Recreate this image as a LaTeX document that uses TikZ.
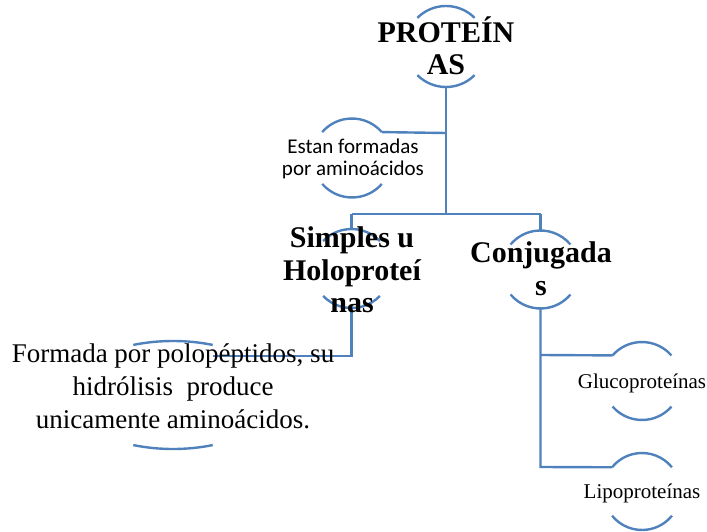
\documentclass[tikz,border=0pt]{standalone}
\usepackage{fontspec}
\setmainfont{Liberation Serif}
\newfontfamily\calib{Carlito}
\definecolor{arcblue}{HTML}{4F81BD}
\newcommand\ringarcs[5]{% name, x, y, radius, endpoint angle
  \coordinate (#1) at (#2,#3);
  \draw[arcline] (#1) ++(#5:#4) arc[start angle=#5, end angle=180-#5, radius=#4];
  \draw[arcline] (#1) ++(180+#5:#4) arc[start angle=180+#5, end angle=360-#5, radius=#4];
  \path (#1) ++(0,#4) coordinate (#1-t);
  \path (#1) ++(0,-#4) coordinate (#1-b);
  \path (#1) ++(#5:#4) coordinate (#1-tr);
  \path (#1) ++(180-#5:#4) coordinate (#1-tl);
}
\tikzset{
  arcline/.style={draw=arcblue, line width=2.4pt},
  conn/.style={draw=arcblue, line width=2.4pt},
  boldtxt/.style={font=\bfseries\fontsize{30}{32.5}\selectfont, align=center, inner sep=0pt},
  plaintxt/.style={font=\fontsize{27}{33}\selectfont, align=center, inner sep=0pt},
  smalltxt/.style={font=\fontsize{21}{24}\selectfont, inner sep=0pt},
  sanstxt/.style={font=\calib\fontsize{21}{22}\selectfont, align=center, inner sep=0pt},
}
\begin{document}
\begin{tikzpicture}[x=1pt,y=1pt]
\useasboundingbox (0,0) rectangle (707,-532);
% arcs
\ringarcs{protc}{446}{-46.5}{40.5}{45}
\ringarcs{estc}{352}{-158}{39.5}{41}
\ringarcs{simc}{351.5}{-268.5}{39.5}{44}
\ringarcs{conc}{540.5}{-269.5}{39}{40}
\ringarcs{gluc}{642}{-381}{39}{41}
\ringarcs{lipc}{642}{-491.5}{38.5}{39}
% Formada (flattened arcs)
\coordinate (forc) at (173,-395);
\draw[arcline] (forc) ++(68:106 and 54) arc[start angle=68, end angle=112, x radius=106, y radius=54];
\draw[arcline] (forc) ++(248:106 and 54) arc[start angle=248, end angle=292, x radius=106, y radius=54];
\coordinate (for-in) at (213,-356);
% connectors
\coordinate (j1) at (446,-133);
\coordinate (j2) at (446,-214);
\coordinate (j3) at (351.5,-214);
\coordinate (j4) at (540.5,-214);
\coordinate (j5) at (351.5,-356);
\coordinate (j6) at (540.5,-355);
\coordinate (j7) at (540.5,-467);
\draw[conn] (protc-b) -- (j2);
\draw[conn] (j1) -- (estc-tr);
\draw[conn] (j3) -- (j4);
\draw[conn] (j3) -- (simc-t);
\draw[conn] (j4) -- (conc-t);
\draw[conn] (simc-b) -- (j5) -- (for-in);
\draw[conn] (conc-b) -- (j7) -- (lipc-tl);
\draw[conn] (j6) -- (gluc-tl);
% texts
\node[boldtxt] (prot) at (446,-50.4) {\strut PROTEÍN\\\strut AS};
\node[sanstxt] (estan) at (353,-159.8) {\strut Estan formadas\\\strut por aminoácidos};
\node[boldtxt] (simples) at (352,-273.5) {\strut Simples u\\\strut Holoproteí\\\strut nas};
\node[boldtxt] (conj) at (541,-272.5) {\strut Conjugada\\\strut s};
\node[plaintxt] (formada) at (173,-388.4) {\strut Formada por polopéptidos, su\\\strut hidrólisis\ \ produce\\\strut unicamente aminoácidos.};
\node[smalltxt, anchor=base] (gluco) at (642,-388) {Glucoproteínas};
\node[smalltxt, anchor=base] (lipo) at (642,-498) {Lipoproteínas};
\end{tikzpicture}
\end{document}
